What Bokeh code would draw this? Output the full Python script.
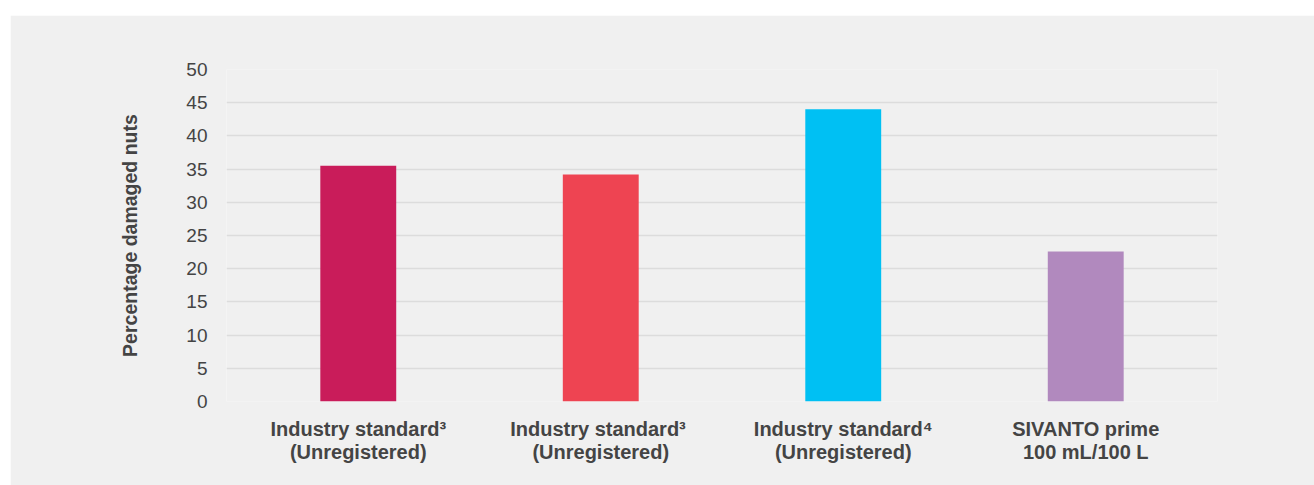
from bokeh.plotting import figure
from bokeh.models import FactorRange, Range1d, ColumnDataSource, SingleIntervalTicker
from bokeh.embed import file_html
from bokeh.resources import INLINE

categories = [
    "Industry standard\u00b3\n(Unregistered)",
    "Industry standard\u00b3 \n(Unregistered)",
    "Industry standard\u2074\n(Unregistered)",
    "SIVANTO prime\n100 mL/100 L",
]
values = [35.5, 34.2, 44.0, 22.6]
colors = ["#C91C5A", "#EE4452", "#00C0F3", "#B189BE"]
y_label = "Percentage damaged nuts"

FONT = "Liberation Sans"
TEXT = "#444444"
BG = "#f0f0f0"

src = ColumnDataSource(dict(cat=categories, val=values, color=colors))

p = figure(
    x_range=FactorRange(factors=categories, range_padding=0.0434, range_padding_units="absolute"),
    y_range=Range1d(0, 50),
    width=1304, height=470,
    frame_width=991, frame_height=332,
    min_border_left=216, min_border_right=97, min_border_top=54, min_border_bottom=84,
    output_backend="svg", toolbar_location=None,
    background_fill_color=BG, border_fill_color=BG,
    outline_line_color=None,
    margin=(15, 0, 0, 10),
)

p.vbar(x="cat", top="val", width=0.313, color="color", source=src, line_color=None)

p.yaxis.ticker = SingleIntervalTicker(interval=5)
p.yaxis.axis_label = y_label
p.yaxis.axis_label_text_font = FONT
p.yaxis.axis_label_text_font_style = "bold"
p.yaxis.axis_label_text_font_size = "19.5px"
p.yaxis.axis_label_text_color = TEXT
p.yaxis.axis_label_standoff = 42

for ax in (p.xaxis, p.yaxis):
    ax.axis_line_color = None
    ax.major_tick_line_color = None
    ax.minor_tick_line_color = None
    ax.major_label_text_font = FONT
    ax.major_label_text_color = TEXT

p.yaxis.major_label_text_font_size = "19px"
p.yaxis.major_label_standoff = 13
p.xaxis.major_label_text_font_size = "20px"
p.xaxis.major_label_standoff = 10
p.xaxis.major_label_text_font_style = "bold"
p.xaxis.major_label_text_line_height = 1.05

p.xgrid.grid_line_color = None
p.ygrid.grid_line_color = "#dcdcdc"
p.ygrid.grid_line_width = 1.5

open("out.html", "w").write(file_html(p, INLINE))
